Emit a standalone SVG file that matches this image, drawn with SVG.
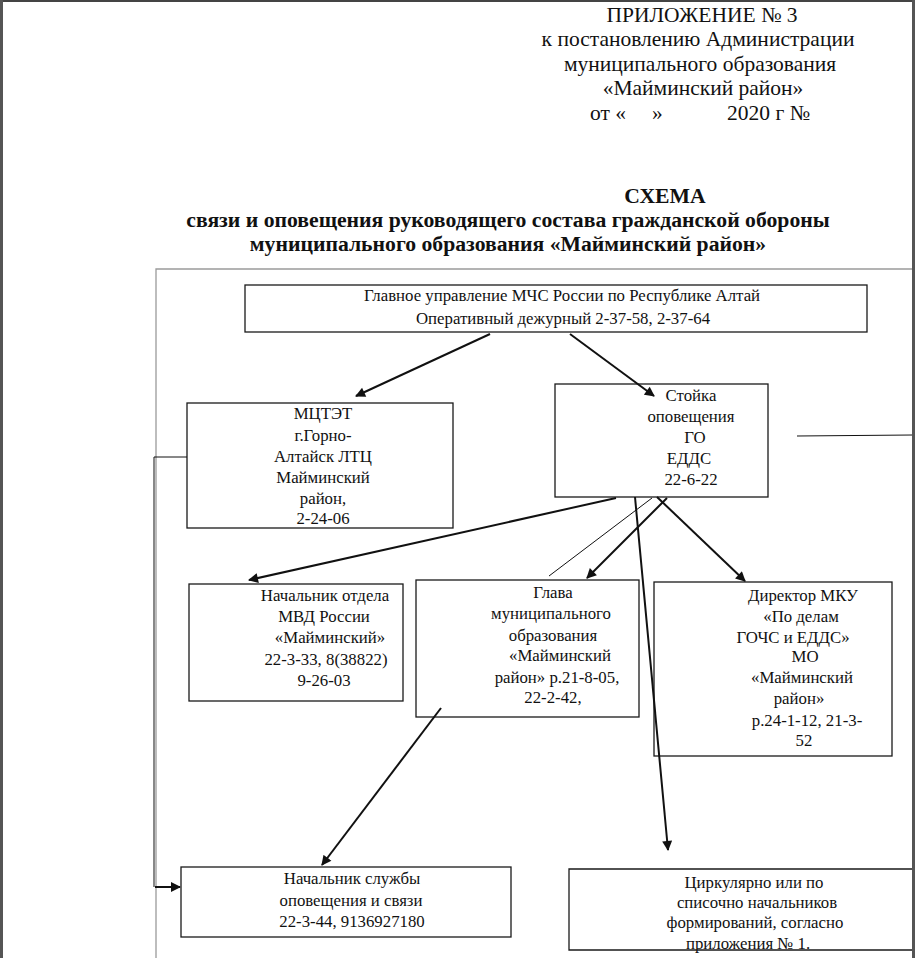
<svg xmlns="http://www.w3.org/2000/svg" width="915" height="958" viewBox="0 0 915 958">
<style>
.t{font-family:"Liberation Serif","Times New Roman",serif;fill:#111;text-anchor:middle}
.s{text-anchor:start}
.h{font-size:21.5px}
.b{font-size:21.7px;font-weight:bold}
.n{font-size:16.8px}
.box{fill:#fff;stroke:#1a1a1a;stroke-width:1.3}
.frame{fill:none;stroke:#9a9a9a;stroke-width:1.3}
.c{fill:none;stroke:#111;stroke-width:2}
.thin{fill:none;stroke:#111;stroke-width:1}
</style>
<defs>
<marker id="ah" viewBox="0 0 10 10" refX="9" refY="5" markerWidth="5.5" markerHeight="5" orient="auto" markerUnits="strokeWidth">
<path d="M0,0 L10,5 L0,10 z" fill="#111"/>
</marker>
</defs>
<rect x="0" y="0" width="915" height="958" fill="#fff"/>
<rect x="0" y="0" width="915" height="2" fill="#444"/>
<rect x="0" y="0" width="3" height="958" fill="#555"/>
<rect x="912" y="0" width="3" height="958" fill="#555"/>

<g id="header">
<text class="t h" x="702" y="22">ПРИЛОЖЕНИЕ № 3</text>
<text class="t h" x="698" y="46">к постановлению Администрации</text>
<text class="t h" x="700" y="71">муниципального образования</text>
<text class="t h" x="703" y="95">«Майминский район»</text>
<text class="t h s" y="120"><tspan x="590">от «</tspan><tspan x="652">»</tspan><tspan x="727">2020 г №</tspan></text>
</g>
<g id="title">
<text class="t b" x="665" y="203">СХЕМА</text>
<text class="t b" x="508" y="227">связи и оповещения руководящего состава гражданской обороны</text>
<text class="t b" x="508" y="251">муниципального образования «Майминский район»</text>
</g>

<path class="frame" d="M156,958 V269 H912"/>

<g id="n-mchs">
<rect class="box" x="245" y="285" width="622" height="47"/>
<text class="t n" x="562" y="301">Главное управление МЧС России по Республике Алтай</text>
<text class="t n" x="563" y="324">Оперативный дежурный 2-37-58, 2-37-64</text>
</g>
<g id="n-mctet">
<rect class="box" x="187" y="403" width="266" height="125"/>
<text class="t n" x="323" y="419">МЦТЭТ</text>
<text class="t n" x="323" y="441">г.Горно-</text>
<text class="t n" x="323" y="462">Алтайск ЛТЦ</text>
<text class="t n" x="323" y="483">Майминский</text>
<text class="t n" x="323" y="504">район,</text>
<text class="t n" x="323" y="524">2-24-06</text>
</g>
<g id="n-stoika">
<rect class="box" x="555" y="384" width="213" height="113"/>
<text class="t n" x="691" y="401">Стойка</text>
<text class="t n" x="691" y="422">оповещения</text>
<text class="t n" x="695" y="443">ГО</text>
<text class="t n" x="689" y="464">ЕДДС</text>
<text class="t n" x="691" y="485">22-6-22</text>
</g>
<g id="n-mvd">
<rect class="box" x="189" y="584" width="214" height="117"/>
<text class="t n" x="325" y="601">Начальник отдела</text>
<text class="t n" x="324" y="622">МВД России</text>
<text class="t n" x="330" y="643">«Майминский»</text>
<text class="t n" x="326" y="665">22-3-33, 8(38822)</text>
<text class="t n" x="324" y="686">9-26-03</text>
</g>
<g id="n-glava">
<rect class="box" x="416" y="580" width="223" height="137"/>
<text class="t n" x="553" y="598">Глава</text>
<text class="t n" x="551" y="619">муниципального</text>
<text class="t n" x="553" y="641">образования</text>
<text class="t n" x="560" y="661">«Майминский</text>
<text class="t n" x="557" y="683">район» р.21-8-05,</text>
<text class="t n" x="553" y="703">22-2-42,</text>
</g>
<g id="n-mku">
<rect class="box" x="654" y="582" width="238" height="174"/>
<text class="t n" x="803" y="601">Директор МКУ</text>
<text class="t n" x="801" y="622">«По делам</text>
<text class="t n" x="793" y="643">ГОЧС и ЕДДС»</text>
<text class="t n" x="805" y="662">МО</text>
<text class="t n" x="802" y="683">«Майминский</text>
<text class="t n" x="799" y="704">район»</text>
<text class="t n" x="807" y="726">р.24-1-12, 21-3-</text>
<text class="t n" x="804" y="746">52</text>
</g>
<g id="n-svyaz">
<rect class="box" x="181" y="867" width="330" height="70"/>
<text class="t n" x="352" y="884">Начальник службы</text>
<text class="t n" x="351" y="906">оповещения и связи</text>
<text class="t n" x="352" y="927">22-3-44, 9136927180</text>
</g>
<g id="n-circ">
<rect x="569" y="869" width="343" height="81" fill="#fff"/>
<text class="t n" x="754" y="888">Циркулярно или по</text>
<text class="t n" x="757" y="908">списочно начальников</text>
<text class="t n" x="755" y="928">формирований, согласно</text>
<text class="t n" x="748" y="949">приложения № 1.</text>
<path d="M912,869 H569 V950 H912" fill="none" stroke="#1a1a1a" stroke-width="1.3"/>
</g>

<g id="connectors">
<line class="c" x1="490" y1="334" x2="356" y2="396" marker-end="url(#ah)"/>
<line class="c" x1="570" y1="334" x2="654" y2="396" marker-end="url(#ah)"/>
<line class="thin" x1="797" y1="436" x2="912" y2="435"/>
<line class="c" x1="616" y1="498" x2="249" y2="580" marker-end="url(#ah)"/>
<line class="thin" x1="652" y1="498" x2="549" y2="576"/>
<line class="c" x1="667" y1="498" x2="587" y2="578" marker-end="url(#ah)"/>
<line class="c" x1="657" y1="497" x2="745" y2="581" marker-end="url(#ah)"/>
<line class="c" x1="635" y1="497" x2="668" y2="850" marker-end="url(#ah)"/>
<line class="c" x1="441" y1="708" x2="322" y2="865" marker-end="url(#ah)"/>
<path class="thin" d="M187,457 H154 V887"/>
<line class="c" x1="155" y1="887" x2="180" y2="887" marker-end="url(#ah)"/>
</g>
</svg>
